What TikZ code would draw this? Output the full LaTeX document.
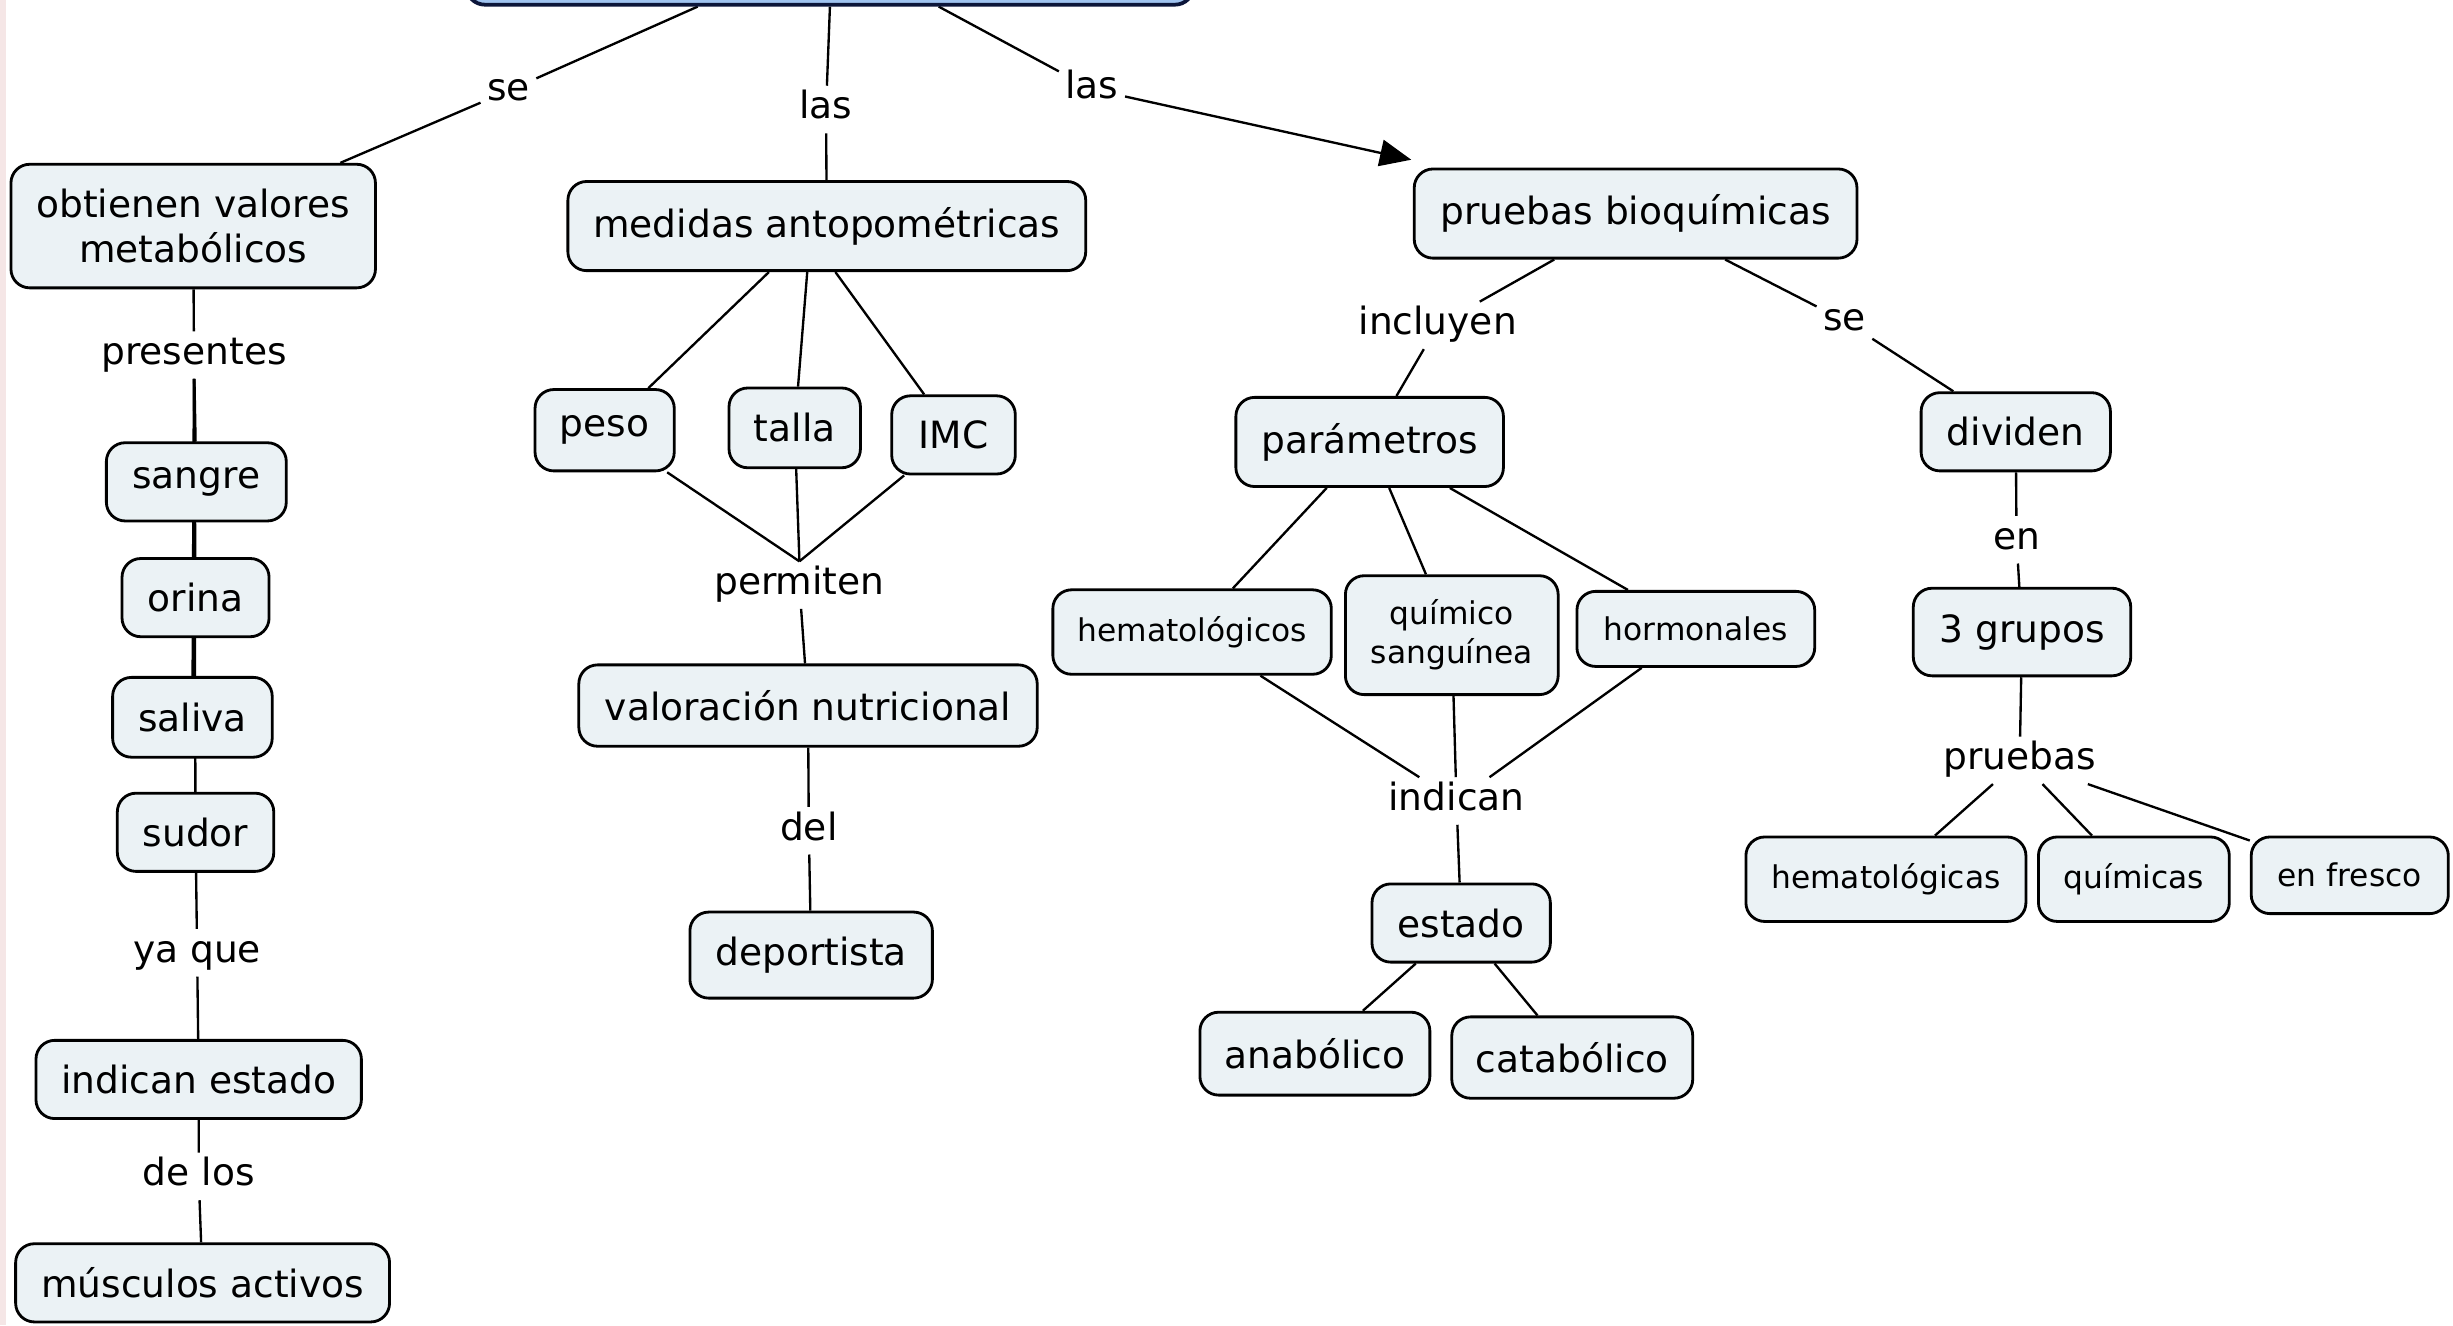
\documentclass[tikz,border=0pt]{standalone}
\usepackage{fontspec}
\setmainfont{DejaVu Sans}
\usetikzlibrary{arrows.meta,backgrounds,calc}
\definecolor{nodefill}{RGB}{235,242,245}
\definecolor{topfill}{RGB}{160,196,240}
\definecolor{topdraw}{RGB}{12,22,58}
\definecolor{stripcol}{RGB}{245,230,230}
\tikzset{
 box/.style={draw=black, line width=1.8pt, fill=nodefill, rounded corners=12pt, inner sep=0pt, font=\fontsize{24}{29}\selectfont, align=center},
 sbox/.style={box, font=\fontsize{20}{25}\selectfont},
 lbl/.style={inner sep=4pt, font=\fontsize{24}{29}\selectfont, text height=17pt, text depth=5pt},
 conn/.style={line width=1.5pt, draw=black},
}
\begin{document}
\begin{tikzpicture}[x=1pt,y=-1pt]
\useasboundingbox (0,0) rectangle (1568,847);
\clip (0,0) rectangle (1568,847);
\fill[stripcol] (0,0) rectangle (4,847);
% top (cut off)
\node[box, draw=topdraw, fill=topfill, line width=2.4pt, minimum width=465pt, minimum height=60pt] (top) at (530.5,-27) {};
% concepts
\node[box, minimum width=233pt, minimum height=79pt] (obt) at (123.5,144.5) {obtienen valores\\metabólicos};
\node[box, minimum width=331pt, minimum height=57pt] (med) at (528.5,144.5) {medidas antopométricas};
\node[box, minimum width=283pt, minimum height=57pt] (pru) at (1045.5,136.5) {pruebas bioquímicas};
\node[box, minimum width=115pt, minimum height=50pt] (sangre) at (125.5,308) {sangre};
\node[box, minimum width=94pt, minimum height=50pt] (orina) at (125,382) {orina};
\node[box, minimum width=102pt, minimum height=51pt] (saliva) at (123,458.5) {saliva};
\node[box, minimum width=100pt, minimum height=50pt] (sudor) at (125,532) {sudor};
\node[box, minimum width=208pt, minimum height=50pt] (indest) at (127,690) {indican estado};
\node[box, minimum width=239pt, minimum height=50pt] (musc) at (129.5,820) {músculos activos};
\node[box, minimum width=89pt, minimum height=52pt] (peso) at (386.5,275) {peso};
\node[box, minimum width=84pt, minimum height=51pt] (talla) at (508,273.5) {talla};
\node[box, minimum width=79pt, minimum height=50pt] (imc) at (609.5,278) {IMC};
\node[box, minimum width=293pt, minimum height=52pt] (val) at (516.5,451) {valoración nutricional};
\node[box, minimum width=155pt, minimum height=55pt] (dep) at (518.5,610.5) {deportista};
\node[box, minimum width=171pt, minimum height=57pt] (par) at (875.5,282.5) {parámetros};
\node[sbox, minimum width=178pt, minimum height=54pt] (hem) at (762,404) {hematológicos};
\node[sbox, minimum width=136pt, minimum height=76pt] (qui) at (928,406) {químico\\sanguínea};
\node[sbox, minimum width=152pt, minimum height=48pt] (hor) at (1084,402) {hormonales};
\node[box, minimum width=114pt, minimum height=50pt] (est) at (934,590) {estado};
\node[box, minimum width=147pt, minimum height=53pt] (ana) at (840.5,673.5) {anabólico};
\node[box, minimum width=154pt, minimum height=52pt] (cat) at (1005,676) {catabólico};
\node[box, minimum width=121pt, minimum height=50pt] (div) at (1288.5,276) {dividen};
\node[box, minimum width=139pt, minimum height=56pt] (gru) at (1292.5,404) {3 grupos};
\node[sbox, minimum width=179pt, minimum height=54pt] (hemt) at (1205.5,562) {hematológicas};
\node[sbox, minimum width=122pt, minimum height=54pt] (quim) at (1364,562) {químicas};
\node[sbox, minimum width=126pt, minimum height=49pt] (fres) at (1502,559.5) {en fresco};
% linking phrases
\node[lbl] (se1) at (325,58) {se};
\node[lbl] (las1) at (528,70) {las};
\node[lbl] (las2) at (698,57) {las};
\node[lbl] (pres) at (124,227) {presentes};
\node[lbl] (yaque) at (126,609) {ya que};
\node[lbl] (delos) at (127,752) {de los};
\node[lbl] (perm) at (511,374) {permiten};
\node[lbl] (del) at (517,531) {del};
\node[lbl] (incl) at (919,208) {incluyen};
\node[lbl] (se2) at (1179,205) {se};
\node[lbl] (en) at (1289,345) {en};
\node[lbl] (prueb) at (1291,486) {pruebas};
\node[lbl] (ind) at (931,512) {indican};
% connectors
\begin{scope}[on background layer]
\draw[conn] ($(top.south)+(-84.5,0)$) -- (se1) -- (obt);
\draw[conn] (top.south) -- (las1) -- (med);
\draw[conn,-{Triangle[length=20pt,width=17pt]}] ($(top.south)+(69.5,0)$) -- (las2) -- ($(pru.north west)+(-1,-5)$);
\draw[conn] (obt) -- (pres);
\foreach \n in {sangre,orina,saliva,sudor} \draw[conn] (pres) -- (\n);
\draw[conn] (sudor) -- (yaque) -- (indest);
\draw[conn] (indest) -- (delos) -- (musc);
\draw[conn] ($(med.south)+(-37,0)$) -- (peso);
\draw[conn] ($(med.south)+(-12.5,0)$) -- (talla);
\draw[conn] ($(med.south)+(5.5,0)$) -- (imc);
\foreach \n in {peso,talla,imc} \draw[conn] (\n) -- (perm.north);
\draw[conn] (perm) -- (val);
\draw[conn] (val) -- (del) -- (dep);
\draw[conn] (pru) -- (incl) -- (par);
\draw[conn] (pru) -- (se2) -- (div);
\foreach \n in {hem,qui,hor} {\draw[conn] (par) -- (\n); \draw[conn] (\n) -- (ind);}
\draw[conn] (ind) -- (est);
\draw[conn] (est) -- (ana);
\draw[conn] (est) -- (cat);
\draw[conn] (div) -- (en) -- (gru);
\draw[conn] (gru) -- (prueb);
\foreach \n in {hemt,quim,fres} \draw[conn] (prueb) -- (\n);
\end{scope}
\end{tikzpicture}
\end{document}
